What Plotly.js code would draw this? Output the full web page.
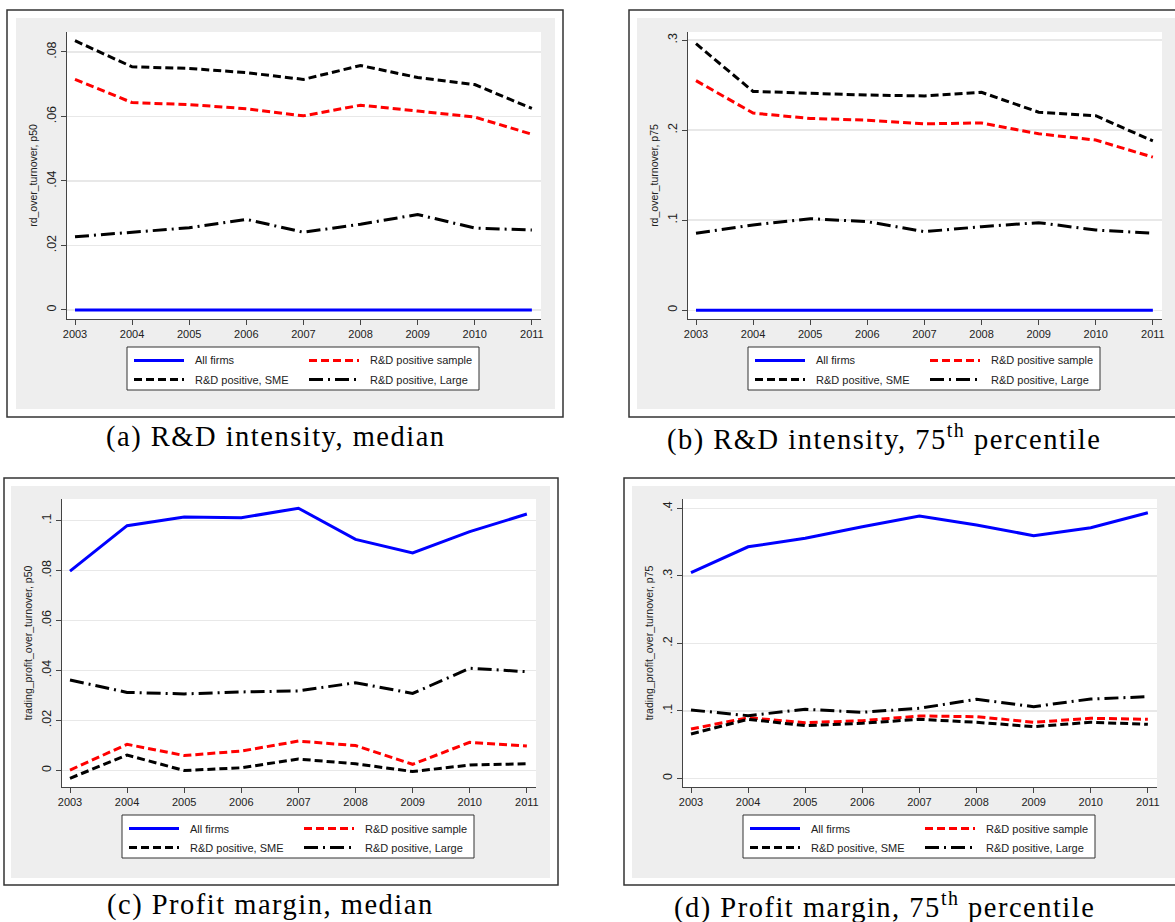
<!DOCTYPE html>
<html>
<head>
<meta charset="utf-8">
<script src="https://cdn.plot.ly/plotly-3.0.1.min.js"></script>
<style>
  html, body { margin: 0; padding: 0; background: #ffffff; }
  #fig { width: 1175px; height: 922px; }
  /* wider tracking for the serif panel captions */
  text[style*="Liberation Serif"] { letter-spacing: 1.5px; }
</style>
</head>
<body>
<div id="fig"></div>
<script>
// ---- data ---------------------------------------------------------------
const years = [2003, 2004, 2005, 2006, 2007, 2008, 2009, 2010, 2011];
const seriesNames = ['All firms', 'R&D positive sample', 'R&D positive, SME', 'R&D positive, Large'];

// (a) R&D intensity, median
const rdP50All    = [0, 0, 0, 0, 0, 0, 0, 0, 0];
const rdP50Sample = [0.0715, 0.0643, 0.0637, 0.0624, 0.0602, 0.0635, 0.0617, 0.0598, 0.0545];
const rdP50SME    = [0.0835, 0.0754, 0.0749, 0.0736, 0.0715, 0.0758, 0.0721, 0.0699, 0.0625];
const rdP50Large  = [0.0227, 0.0240, 0.0255, 0.0281, 0.0241, 0.0266, 0.0296, 0.0254, 0.0248];

// (b) R&D intensity, 75th percentile
const rdP75All    = [0, 0, 0, 0, 0, 0, 0, 0, 0];
const rdP75Sample = [0.255, 0.219, 0.213, 0.211, 0.207, 0.208, 0.196, 0.189, 0.170];
const rdP75SME    = [0.296, 0.243, 0.241, 0.239, 0.238, 0.242, 0.220, 0.216, 0.188];
const rdP75Large  = [0.0855, 0.0947, 0.1017, 0.0984, 0.0873, 0.0928, 0.0973, 0.0891, 0.0855];

// (c) Profit margin, median
const pmP50All    = [0.0798, 0.0980, 0.1015, 0.1012, 0.1050, 0.0925, 0.0871, 0.0956, 0.1027];
const pmP50Sample = [0.0001, 0.0104, 0.0059, 0.0077, 0.0117, 0.0099, 0.0024, 0.0112, 0.0097];
const pmP50SME    = [-0.0032, 0.0061, -0.0001, 0.0010, 0.0045, 0.0026, -0.0005, 0.0021, 0.0026];
const pmP50Large  = [0.0362, 0.0312, 0.0306, 0.0314, 0.0318, 0.0351, 0.0308, 0.0409, 0.0395];

// (d) Profit margin, 75th percentile
const pmP75All    = [0.3046, 0.3430, 0.3556, 0.3728, 0.3886, 0.3753, 0.3595, 0.3713, 0.3935];
const pmP75Sample = [0.0730, 0.0898, 0.0824, 0.0854, 0.0923, 0.0913, 0.0830, 0.0889, 0.0874];
const pmP75SME    = [0.0656, 0.0874, 0.0780, 0.0815, 0.0874, 0.0830, 0.0765, 0.0830, 0.0800];
const pmP75Large  = [0.1012, 0.0928, 0.1022, 0.0978, 0.1037, 0.1170, 0.1061, 0.1175, 0.1209];

// y tick values and labels per panel
const yTicksA = [0, 0.02, 0.04, 0.06, 0.08];
const yTextA  = ['0', '.02', '.04', '.06', '.08'];
const yTicksB = [0, 0.1, 0.2, 0.3];
const yTextB  = ['0', '.1', '.2', '.3'];
const yTicksC = [0, 0.02, 0.04, 0.06, 0.08, 0.1];
const yTextC  = ['0', '.02', '.04', '.06', '.08', '.1'];
const yTicksD = [0, 0.1, 0.2, 0.3, 0.4];
const yTextD  = ['0', '.1', '.2', '.3', '.4'];

const yTitles  = ['rd_over_turnover, p50', 'rd_over_turnover, p75',
                  'trading_profit_over_turnover, p50', 'trading_profit_over_turnover, p75'];
const captions = ['(a) R&amp;D intensity, median', '(b) R&amp;D intensity, 75<sup>th</sup> percentile',
                  '(c) Profit margin, median', '(d) Profit margin, 75<sup>th</sup> percentile'];

// ---- page geometry (pixels) --------------------------------------------
const W = 1175, H = 922;
const px = x => x / W;
const py = y => 1 - y / H;

const panels = [
  { series: [rdP50All, rdP50Sample, rdP50SME, rdP50Large], ticks: yTicksA, text: yTextA,
    yrange: [-0.0028, 0.0862],
    plot: [67, 32, 541, 319], gray: [16, 18, 555, 409], frame: [7, 10, 563, 417], cap: [276, 437] },
  { series: [rdP75All, rdP75Sample, rdP75SME, rdP75Large], ticks: yTicksB, text: yTextB,
    yrange: [-0.0097, 0.309],
    plot: [688, 32, 1162, 319], gray: [637, 18, 1176, 409], frame: [629, 10, 1190, 417], cap: [884, 437] },
  { series: [pmP50All, pmP50Sample, pmP50SME, pmP50Large], ticks: yTicksC, text: yTextC,
    yrange: [-0.0067, 0.1087],
    plot: [62, 499, 536, 787], gray: [11, 486, 550, 878], frame: [4, 478, 558, 885], cap: [270, 905] },
  { series: [pmP75All, pmP75Sample, pmP75SME, pmP75Large], ticks: yTicksD, text: yTextD,
    yrange: [-0.0129, 0.4138],
    plot: [683, 499, 1157, 787], gray: [632, 486, 1176, 878], frame: [624, 478, 1190, 885], cap: [884, 905] }
];

// line styles for the four series
const styles = [
  { color: '#0000ff', dash: 'solid' },
  { color: '#ff0000', dash: '8px,4px' },
  { color: '#000000', dash: '8px,4px' },
  { color: '#000000', dash: '14px,5px,2px,5px' }
];

const sansFont = 'Liberation Sans, Arial, Helvetica, sans-serif';
const serifFont = 'Liberation Serif, Times New Roman, serif';

const traces = [];
const shapes = [];
const annotations = [];
const layout = {
  width: W, height: H,
  margin: { l: 0, r: 0, t: 0, b: 0 },
  paper_bgcolor: '#ffffff',
  plot_bgcolor: 'rgba(0,0,0,0)',
  showlegend: false,
  font: { family: sansFont, color: '#222222' }
};

panels.forEach((p, i) => {
  const sfx = i === 0 ? '' : String(i + 1);
  const xName = 'x' + sfx, yName = 'y' + sfx;
  const [l, t, r, b] = p.plot;

  p.series.forEach((vals, k) => {
    traces.push({
      type: 'scatter', mode: 'lines',
      x: years, y: vals, name: seriesNames[k],
      xaxis: xName, yaxis: yName,
      line: { color: styles[k].color, dash: styles[k].dash, width: 3 },
      hoverinfo: 'x+y+name'
    });
  });

  layout['xaxis' + sfx] = {
    domain: [px(l), px(r)], anchor: yName,
    range: [2002.86, 2011.16],
    tickvals: years, ticktext: years.map(String),
    ticks: 'outside', ticklen: 5, tickwidth: 1, tickcolor: '#444444',
    showline: true, linecolor: '#444444', linewidth: 1,
    showgrid: false, zeroline: false,
    tickfont: { size: 11, family: sansFont, color: '#222222' },
    fixedrange: true
  };
  layout['yaxis' + sfx] = {
    domain: [py(b), py(t)], anchor: xName,
    range: p.yrange,
    tickvals: p.ticks, ticktext: p.text, tickangle: -90,
    ticks: 'outside', ticklen: 5, tickwidth: 1, tickcolor: '#444444',
    showline: true, linecolor: '#444444', linewidth: 1,
    showgrid: true, gridcolor: '#e8e8e8', gridwidth: 1.5, zeroline: false,
    tickfont: { size: 12.5, family: sansFont, color: '#222222' },
    title: { text: yTitles[i], font: { size: 10.5, family: sansFont, color: '#222222' }, standoff: 5 },
    fixedrange: true
  };

  // panel background, outer frame and white plotting region
  const [gl, gt, gr, gb] = p.gray;
  shapes.push({ type: 'rect', xref: 'paper', yref: 'paper', layer: 'below',
    x0: px(gl), x1: px(gr), y0: py(gb), y1: py(gt),
    fillcolor: '#eeeeee', line: { width: 0 } });
  shapes.push({ type: 'rect', xref: 'paper', yref: 'paper', layer: 'below',
    x0: px(l), x1: px(r), y0: py(b), y1: py(t),
    fillcolor: '#ffffff', line: { width: 0 } });
  const [fl, ft, fr, fb] = p.frame;
  shapes.push({ type: 'rect', xref: 'paper', yref: 'paper', layer: 'above',
    x0: px(fl), x1: px(fr), y0: py(fb), y1: py(ft),
    fillcolor: 'rgba(0,0,0,0)', line: { color: '#333333', width: 1.5 } });

  // legend box below the plotting region
  const boxL = l + 60, boxT = b + 28, boxW = 352, boxH = 43;
  shapes.push({ type: 'rect', xref: 'paper', yref: 'paper', layer: 'above',
    x0: px(boxL), x1: px(boxL + boxW), y0: py(boxT + boxH), y1: py(boxT),
    fillcolor: '#ffffff', line: { color: '#333333', width: 1 } });
  const colX = [7, 182], rowY = [13.5, 32.5];
  seriesNames.forEach((name, k) => {
    const cx = boxL + colX[k % 2], cy = boxT + rowY[Math.floor(k / 2)];
    shapes.push({ type: 'line', xref: 'paper', yref: 'paper', layer: 'above',
      x0: px(cx), x1: px(cx + 50), y0: py(cy), y1: py(cy),
      line: { color: styles[k].color, dash: styles[k].dash, width: 3 } });
    annotations.push({ xref: 'paper', yref: 'paper', x: px(cx + 59), y: py(cy),
      xanchor: 'left', yanchor: 'middle', showarrow: false,
      text: name.replace('&', '&amp;'), font: { size: 11, family: sansFont, color: '#222222' } });
  });

  // caption under the panel
  annotations.push({ xref: 'paper', yref: 'paper', x: px(p.cap[0]), y: py(p.cap[1]),
    xanchor: 'center', yanchor: 'middle', showarrow: false,
    text: captions[i], font: { size: 28.5, family: serifFont, color: '#000000' } });
});

layout.shapes = shapes;
layout.annotations = annotations;

Plotly.newPlot('fig', traces, layout, { staticPlot: true, displayModeBar: false });
</script>
</body>
</html>
